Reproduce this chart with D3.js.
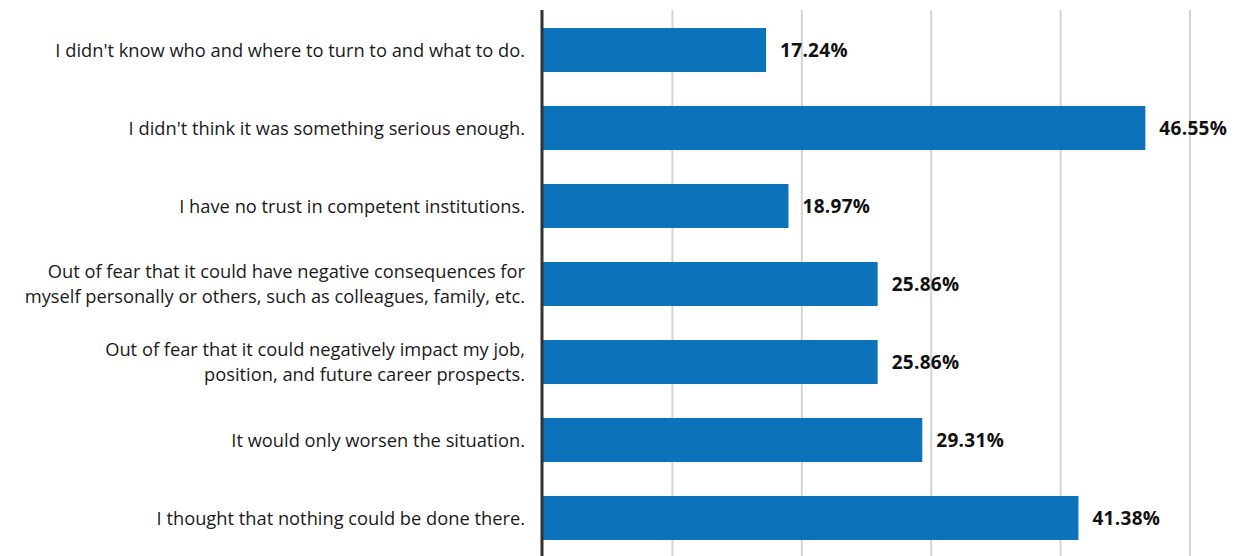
<!DOCTYPE html>
<html>
<head>
<meta charset="utf-8">
<script src="https://cdn.jsdelivr.net/npm/d3@7"></script>
<style>
  html, body { margin: 0; padding: 0; background: #fff; }
  svg { display: block; }
</style>
</head>
<body>
<svg id="chart" width="1239" height="556"></svg>
<script>
// Reasons for not reporting, share of respondents (%)
const categories = [
  ["I didn't know who and where to turn to and what to do."],
  ["I didn't think it was something serious enough."],
  ["I have no trust in competent institutions."],
  ["Out of fear that it could have negative consequences for", "myself personally or others, such as colleagues, family, etc."],
  ["Out of fear that it could negatively impact my job,", "position, and future career prospects."],
  ["It would only worsen the situation."],
  ["I thought that nothing could be done there."]
];
const values = [17.24, 46.55, 18.97, 25.86, 25.86, 29.31, 41.38];
const gridTicks = [10, 20, 30, 40, 50];

const svg = d3.select("#chart");
const font = "'Open Sans', 'Noto Sans', sans-serif";

const x = d3.scaleLinear().domain([0, 50]).range([543, 1190]);
const y = d3.scaleBand()
  .domain(d3.range(categories.length))
  .range([11, 557])
  .paddingInner(0.436)
  .paddingOuter(0.218);

// vertical gridlines
svg.append("g")
  .selectAll("line")
  .data(gridTicks)
  .join("line")
  .attr("x1", d => x(d)).attr("x2", d => x(d))
  .attr("y1", 10).attr("y2", 556)
  .attr("stroke", "#d4d4d4")
  .attr("stroke-width", 2);

// bars
svg.append("g")
  .selectAll("rect")
  .data(values)
  .join("rect")
  .attr("x", x(0))
  .attr("y", (d, i) => y(i))
  .attr("width", d => x(d) - x(0))
  .attr("height", y.bandwidth())
  .attr("fill", "#0c72ba");

// value labels
svg.append("g")
  .selectAll("text")
  .data(values)
  .join("text")
  .attr("x", d => x(d) + 14)
  .attr("y", (d, i) => y(i) + y.bandwidth() / 2)
  .attr("dy", "0.36em")
  .attr("font-family", font)
  .attr("font-size", 19)
  .attr("font-weight", 700)
  .attr("letter-spacing", 0.3)
  .attr("fill", "#111")
  .text(d => d.toFixed(2) + "%");

// category labels (multi-line labels centred on their bar)
const labelSize = 18.3;
const lineH = 25;
const labels = svg.append("g")
  .selectAll("text")
  .data(categories)
  .join("text")
  .attr("text-anchor", "end")
  .attr("font-family", font)
  .attr("font-size", labelSize)
  .attr("fill", "#1a1a1a")
  .attr("y", (d, i) => y(i) + y.bandwidth() / 2);
labels.each(function(lines) {
  const t = d3.select(this);
  lines.forEach((ln, k) => {
    t.append("tspan")
      .attr("x", 525)
      .attr("dy", k === 0 ? ((0.36 * labelSize) - (lines.length - 1) * lineH / 2) + "px" : lineH + "px")
      .text(ln);
  });
});

// category axis line
svg.append("line")
  .attr("x1", x(0) - 1).attr("x2", x(0) - 1)
  .attr("y1", 10).attr("y2", 556)
  .attr("stroke", "#333")
  .attr("stroke-width", 3);
</script>
</body>
</html>
